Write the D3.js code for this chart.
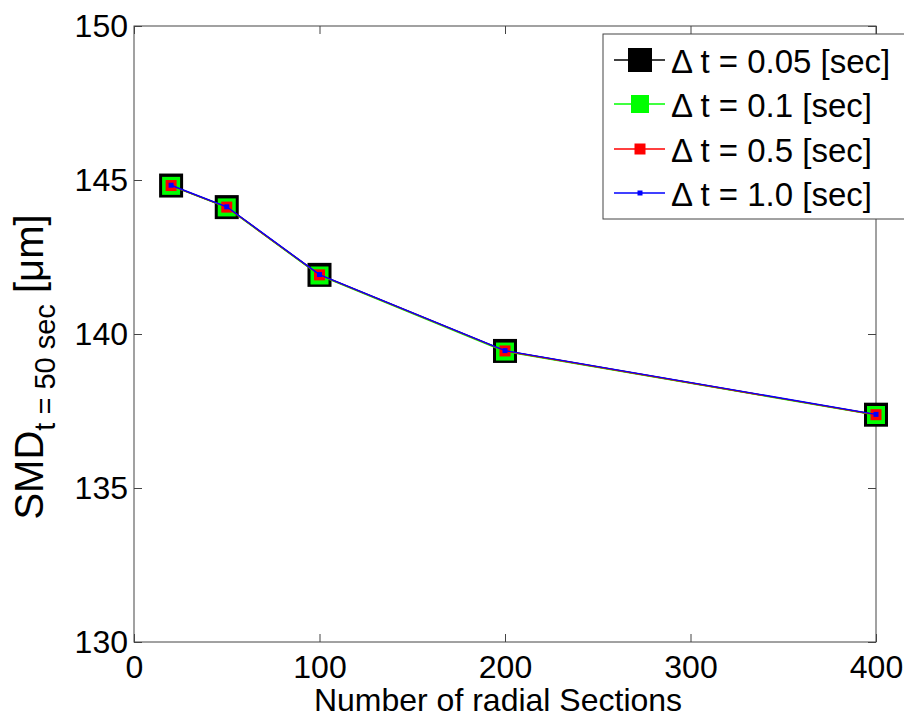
<!DOCTYPE html>
<html><head><meta charset="utf-8">
<script src="https://cdn.jsdelivr.net/npm/d3@7"></script>
<style>body{margin:0;background:#fff}svg text{font-family:Arial,"Liberation Sans",sans-serif}</style>
</head><body><svg id="c" width="904" height="720"></svg>
<script>
const sections = [20, 50, 100, 200, 400];
const smd005 = [144.82, 144.12, 141.92, 139.45, 137.38];
const smd01  = [144.81, 144.11, 141.90, 139.43, 137.37];
const smd05  = [144.82, 144.12, 141.92, 139.45, 137.38];
const smd10  = [144.83, 144.13, 141.93, 139.46, 137.39];
const seriesNames = ["0.05", "0.1", "0.5", "1.0"];
const xTicks = [0, 100, 200, 300, 400];
const yTicks = [130, 135, 140, 145, 150];

const series = [
  {name: seriesNames[0], vals: smd005, color: "#000", size: 24},
  {name: seriesNames[1], vals: smd01, color: "#00ff00", size: 18},
  {name: seriesNames[2], vals: smd05, color: "#ff0000", size: 11},
  {name: seriesNames[3], vals: smd10, color: "#0000ff", size: 5}
];

const svg = d3.select("#c");
const L = 134, R = 876, T = 26, B = 642;
const x = d3.scaleLinear().domain([0, 400]).range([L, R]);
const y = d3.scaleLinear().domain([130, 150]).range([B, T]);
const axisColor = "#444";

svg.append("rect").attr("x", L).attr("y", T).attr("width", R - L).attr("height", B - T)
  .attr("fill", "none").attr("stroke", axisColor).attr("stroke-width", 1);

const fs = 32;
const gx = svg.append("g").attr("transform", `translate(0,${B})`)
  .call(d3.axisBottom(x).tickValues(xTicks).tickSize(-8).tickPadding(13).tickFormat(d3.format("d")));
const gxt = svg.append("g").attr("transform", `translate(0,${T})`)
  .call(d3.axisTop(x).tickValues(xTicks).tickSize(-8).tickFormat(""));
const gy = svg.append("g").attr("transform", `translate(${L},0)`)
  .call(d3.axisLeft(y).tickValues(yTicks).tickSize(-8).tickPadding(6).tickFormat(d3.format("d")));
const gyr = svg.append("g").attr("transform", `translate(${R},0)`)
  .call(d3.axisRight(y).tickValues(yTicks).tickSize(-8).tickFormat(""));
[gx, gxt, gy, gyr].forEach(g => {
  g.select(".domain").remove();
  g.selectAll(".tick line").attr("stroke", axisColor);
  g.selectAll("text").attr("font-size", fs).attr("fill", "#000")
   .attr("font-family", "Arial, 'Liberation Sans', sans-serif");
});

const line = d3.line().x((d, i) => x(sections[i])).y(d => y(d));
series.forEach(s => {
  svg.append("path").datum(s.vals).attr("d", line).attr("fill", "none")
    .attr("stroke", s.color).attr("stroke-width", 1.4);
  svg.append("g").selectAll("rect").data(s.vals).join("rect")
    .attr("x", (d, i) => x(sections[i]) - s.size / 2)
    .attr("y", d => y(d) - s.size / 2)
    .attr("width", s.size).attr("height", s.size).attr("fill", s.color);
});

svg.append("text").attr("x", 498).attr("y", 711).attr("text-anchor", "middle")
  .attr("font-size", 32).text("Number of radial Sections");
const yl = svg.append("text").attr("transform", "translate(43,367) rotate(-90)")
  .attr("text-anchor", "middle").attr("font-size", 40);
yl.append("tspan").text("SMD");
yl.append("tspan").attr("font-size", 29).attr("dy", 12).text("t = 50 sec");
yl.append("tspan").attr("dy", -12).text(" [\u03bcm]");

const lg = svg.append("g");
lg.append("rect").attr("x", 603).attr("y", 34).attr("width", 310).attr("height", 185)
  .attr("fill", "#fff").attr("stroke", axisColor);
const rowY = [60, 104, 149, 193];
series.forEach((s, i) => {
  const cy = rowY[i];
  lg.append("line").attr("x1", 614).attr("x2", 665).attr("y1", cy).attr("y2", cy)
    .attr("stroke", s.color).attr("stroke-width", 1.4);
  lg.append("rect").attr("x", 640 - s.size / 2).attr("y", cy - s.size / 2)
    .attr("width", s.size).attr("height", s.size).attr("fill", s.color);
  lg.append("text").attr("x", 671).attr("y", cy + 13).attr("font-size", 33)
    .text("\u0394 t = " + s.name + " [sec]");
});
</script></body></html>
